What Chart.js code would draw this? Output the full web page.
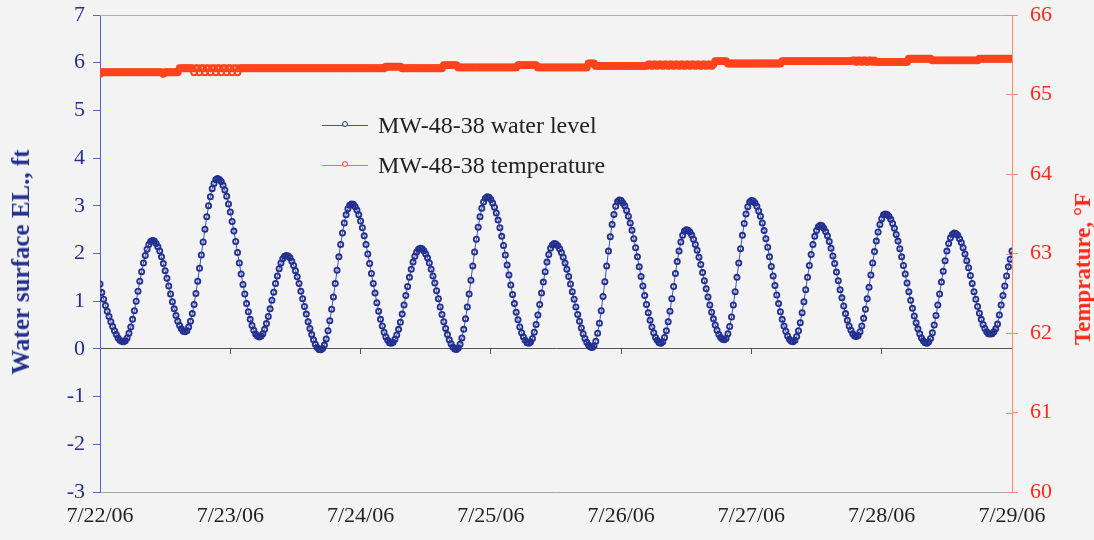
<!DOCTYPE html>
<html>
<head>
<meta charset="utf-8">
<script src="https://cdn.jsdelivr.net/npm/chart.js@4.4.1/dist/chart.umd.min.js"></script>
<style>
  html, body { margin: 0; padding: 0; background: #f3f3f3; }
  #wrap { position: relative; width: 1094px; height: 540px; overflow: hidden; background: #f3f3f3; }
  #c { position: absolute; left: 0; top: 0; }
  #legend { position: absolute; left: 322px; top: 105px; font-family: "Liberation Serif", "Times New Roman", serif; font-size: 24px; color: #222; }
  #legend .item { display: flex; align-items: center; height: 40px; white-space: nowrap; }
  #legend .sample { position: relative; width: 46px; height: 0; border-top: 1px solid; margin-right: 10px; }
  #legend .dot { position: absolute; left: 50%; top: -4.5px; width: 4px; height: 4px; margin-left: -3.5px; border: 1.5px solid; border-radius: 50%; background: #f3f3f3; }
  .axis-title { position: absolute; transform: translate(-50%, -50%) rotate(-90deg); font-family: "Liberation Serif", "Times New Roman", serif; font-weight: bold; white-space: nowrap; }
  #y1title { left: 21px; top: 262px; font-size: 25px; color: #24308f; }
  #y2title { left: 1083px; top: 269px; font-size: 23px; color: #ff2a1a; }
</style>
</head>
<body>
<div id="wrap">
  <canvas id="c" width="1094" height="540"></canvas>
  <div id="legend"></div>
  <div id="y1title" class="axis-title"></div>
  <div id="y2title" class="axis-title"></div>
</div>
<script>
// ---------------- DATA ----------------
const SAMPLE_MINUTES = 20;          // logger interval
const MINUTES_PER_DAY = 1440;

const dateLabels = ['7/22/06', '7/23/06', '7/24/06', '7/25/06', '7/26/06', '7/27/06', '7/28/06', '7/29/06'];
const seriesNames = ['MW-48-38 water level', 'MW-48-38 temperature'];
const leftAxisTitle = 'Water surface EL., ft';
const rightAxisTitle = 'Temprature, \u00B0F';
const waterTicks = [-3, 7];
const tempTicks = [60, 66];

// Water level (ft), 20-minute readings, one array per day
const waterDay0722 = [
  1.36,1.18,1.04,0.91,0.79,0.68,0.57,0.47,0.38,0.30,0.23,0.18,0.16,0.15,
  0.17,0.23,0.33,0.46,0.62,0.80,1.00,1.21,1.42,1.62,1.80,1.96,2.09,2.19,2.25,2.27,
  2.26,2.21,2.14,2.05,1.93,1.79,1.64,1.48,1.32,1.15,0.99,0.84,0.70,0.58,0.49,0.42,0.37,0.36,
  0.38,0.46,0.58,0.74,0.93,1.16,1.42,1.69,1.97,2.24,2.51,2.77,3.00,3.19,3.36,3.47,3.55,3.57,
  3.55,3.51,3.43,3.33,3.20,3.04
];
const waterDay0723 = [
  2.87,2.67,2.47,2.25,2.02,1.80,1.57,1.35,1.15,0.95,0.78,0.62,0.49,0.39,0.31,0.27,0.25,
  0.27,0.32,0.41,0.53,0.68,0.84,1.02,1.19,1.37,1.53,1.68,1.80,1.89,1.94,1.96,
  1.95,1.91,1.84,1.75,1.64,1.51,1.37,1.21,1.05,0.89,0.73,0.57,0.43,0.30,0.19,0.10,0.03,-0.01,-0.02,
  0.01,0.08,0.21,0.38,0.59,0.83,1.09,1.37,1.65,1.93,2.19,2.43,2.64,2.81,2.94,3.01,3.04,
  3.03,2.98,2.91,2.81
];
const waterDay0724 = [
  2.68,2.54,2.37,2.19,1.99,1.79,1.58,1.37,1.17,0.97,0.79,0.62,0.48,0.35,0.25,0.18,0.13,0.12,
  0.14,0.20,0.29,0.41,0.56,0.73,0.92,1.12,1.31,1.50,1.67,1.82,1.94,2.03,2.09,2.11,
  2.10,2.06,1.99,1.91,1.80,1.67,1.53,1.38,1.22,1.05,0.88,0.72,0.57,0.43,0.30,0.19,0.11,0.04,0.00,-0.01,
  0.02,0.10,0.23,0.41,0.63,0.88,1.15,1.44,1.74,2.03,2.30,2.55,2.77,2.95,3.08,3.16,3.19,
  3.18
];
const waterDay0725 = [
  3.13,3.06,2.97,2.85,2.70,2.54,2.36,2.17,1.97,1.76,1.55,1.34,1.14,0.95,0.77,0.61,0.46,0.34,0.25,0.18,0.13,0.12,
  0.15,0.22,0.35,0.51,0.71,0.93,1.17,1.40,1.62,1.82,1.98,2.11,2.18,2.21,
  2.20,2.16,2.10,2.02,1.92,1.80,1.67,1.52,1.36,1.20,1.04,0.88,0.72,0.58,0.44,0.32,0.22,0.14,0.08,0.04,0.03,
  0.06,0.16,0.33,0.54,0.80,1.10,1.41,1.74,2.05,2.35,2.61,2.82,2.99,3.09,3.12
];
const waterDay0726 = [
  3.11,3.06,3.00,2.90,2.78,2.64,2.49,2.31,2.12,1.93,1.72,1.52,1.32,1.12,0.93,0.76,0.60,0.46,0.34,0.24,0.18,0.13,0.12,
  0.15,0.24,0.38,0.57,0.79,1.05,1.31,1.58,1.83,2.05,2.24,2.38,2.47,2.50,
  2.49,2.45,2.39,2.30,2.19,2.07,1.92,1.77,1.60,1.43,1.26,1.09,0.92,0.77,0.63,0.50,0.39,0.30,0.24,0.20,0.19,
  0.22,0.32,0.47,0.67,0.92,1.20,1.50,1.80,2.10,2.38,2.63,2.83,2.98,3.08
];
const waterDay0727 = [
  3.11,
  3.10,3.06,2.99,2.89,2.78,2.64,2.48,2.31,2.13,1.93,1.73,1.53,1.33,1.13,0.95,0.78,0.62,0.48,0.37,0.27,0.20,0.16,0.15,
  0.18,0.26,0.38,0.55,0.76,0.99,1.24,1.50,1.75,1.98,2.19,2.36,2.48,2.56,2.59,
  2.58,2.53,2.46,2.37,2.25,2.11,1.95,1.79,1.61,1.43,1.24,1.07,0.90,0.74,0.60,0.48,0.39,0.32,0.27,0.26,
  0.28,0.36,0.48,0.64,0.83,1.05,1.29,1.55,1.80,2.04,2.26,2.45,2.61
];
const waterDay0728 = [
  2.73,2.81,2.83,
  2.82,2.78,2.72,2.63,2.53,2.40,2.26,2.10,1.93,1.75,1.57,1.38,1.20,1.02,0.85,0.69,0.55,0.42,0.32,0.23,0.17,0.13,0.12,
  0.15,0.22,0.34,0.50,0.70,0.92,1.15,1.40,1.63,1.85,2.05,2.21,2.33,2.40,2.43,
  2.42,2.38,2.31,2.23,2.12,1.99,1.85,1.70,1.54,1.37,1.20,1.04,0.89,0.75,0.62,0.51,0.43,0.36,0.32,0.31,
  0.32,0.36,0.42,0.52,0.71,0.92,1.12,1.32,1.53,1.72,1.88
];
const waterDay0729 = [2.05];

// Temperature (°F), same 20-minute readings, one array per day
const tempDay0722 = [
  65.26,
  65.28,65.28,65.28,65.28,65.28,65.28,65.28,65.28,65.28,65.28,
  65.28,65.28,65.28,65.28,65.28,65.28,65.28,65.28,65.28,65.28,
  65.28,65.28,65.28,65.28,65.28,65.28,65.28,65.28,65.28,65.28,
  65.28,65.28,65.28,65.28,
  65.26,
  65.28,65.28,65.28,65.28,65.28,65.28,65.28,65.28,
  65.33,65.33,65.33,65.33,65.33,65.33,65.33,65.33,
  65.28,65.33,65.33,65.28,65.33,65.33,65.28,65.33,65.33,65.28,
  65.33,65.33,65.28,65.33,65.33,65.28,65.33,65.33,65.28,65.33
];
const tempDay0723 = [
  65.33,65.28,65.33,65.33,65.28,65.33,
  65.33,65.33,65.33,65.33,65.33,65.33,65.33,65.33,65.33,65.33,
  65.33,65.33,65.33,65.33,65.33,65.33,65.33,65.33,65.33,65.33,
  65.33,65.33,65.33,65.33,65.33,65.33,65.33,65.33,65.33,65.33,
  65.33,65.33,65.33,65.33,65.33,65.33,65.33,65.33,65.33,65.33,
  65.33,65.33,65.33,65.33,65.33,65.33,65.33,65.33,65.33,65.33,
  65.33,65.33,65.33,65.33,65.33,65.33,65.33,65.33,65.33,65.33,
  65.33,65.33,65.33,65.33,65.33,65.33
];
const tempDay0724 = [
  65.33,65.33,65.33,65.33,65.33,65.33,65.33,65.33,65.33,65.33,65.33,65.33,65.33,65.33,
  65.35,65.35,65.35,65.35,65.35,65.35,65.35,65.35,65.35,
  65.33,65.33,65.33,65.33,65.33,65.33,65.33,65.33,65.33,65.33,
  65.33,65.33,65.33,65.33,65.33,65.33,65.33,65.33,65.33,65.33,
  65.33,65.33,65.33,
  65.37,65.37,65.37,65.37,65.37,65.37,65.37,65.37,
  65.34,65.34,65.34,65.34,65.34,65.34,65.34,65.34,65.34,
  65.34,65.34,65.34,65.34,65.34,65.34,65.34,65.34,65.34
];
const tempDay0725 = [
  65.34,65.34,65.34,65.34,65.34,65.34,65.34,65.34,65.34,65.34,65.34,65.34,65.34,65.34,65.34,
  65.37,65.37,65.37,65.37,65.37,65.37,65.37,65.37,65.37,65.37,65.37,
  65.34,65.34,65.34,65.34,65.34,65.34,65.34,65.34,65.34,65.34,
  65.34,65.34,65.34,65.34,65.34,65.34,65.34,65.34,65.34,65.34,
  65.34,65.34,65.34,65.34,65.34,65.34,65.34,65.34,
  65.39,65.39,65.39,65.39,
  65.36,65.36,65.36,65.36,65.36,65.36,65.36,65.36,65.36,65.36,65.36,65.36,65.36,65.36
];
const tempDay0726 = [
  65.36,65.36,65.36,65.36,65.36,65.36,65.36,65.36,65.36,65.36,65.36,65.36,65.36,65.36,65.36,
  65.38,65.38,65.36,65.38,65.38,65.36,65.38,65.38,65.36,65.38,65.38,65.36,
  65.38,65.38,65.36,65.38,65.38,65.36,65.38,65.38,65.36,65.38,65.38,65.36,
  65.38,65.38,65.36,65.38,65.38,65.36,65.38,65.38,65.36,65.38,65.38,65.36,
  65.38,
  65.42,65.42,65.42,65.42,65.42,65.42,65.42,
  65.39,65.39,65.39,65.39,65.39,65.39,65.39,65.39,65.39,65.39,65.39,65.39,65.39
];
const tempDay0727 = [
  65.39,65.39,65.39,65.39,65.39,65.39,65.39,65.39,65.39,65.39,65.39,65.39,65.39,65.39,65.39,65.39,65.39,
  65.42,65.42,65.42,65.42,65.42,65.42,65.42,65.42,65.42,65.42,
  65.42,65.42,65.42,65.42,65.42,65.42,65.42,65.42,65.42,65.42,
  65.42,65.42,65.42,65.42,65.42,65.42,65.42,65.42,65.42,65.42,
  65.42,65.42,65.42,65.42,65.42,65.42,65.42,65.42,65.42,
  65.43,65.43,65.41,65.43,65.43,65.41,65.43,65.43,65.41,65.43,65.43,65.41,65.43,
  65.41,65.41,65.41
];
const tempDay0728 = [
  65.41,65.41,65.41,65.41,65.41,65.41,65.41,65.41,65.41,65.41,65.41,65.41,65.41,65.41,65.41,
  65.45,65.45,65.45,65.45,65.45,65.45,65.45,65.45,65.45,65.45,65.45,65.45,65.45,
  65.43,65.43,65.43,65.43,65.43,65.43,65.43,65.43,65.43,65.43,65.43,65.43,65.43,
  65.43,65.43,65.43,65.43,65.43,65.43,65.43,65.43,65.43,65.43,65.43,65.43,65.43,
  65.45,65.45,65.45,65.45,65.45,65.45,65.45,65.45,65.45,
  65.45,65.45,65.45,65.45,65.45,65.45,65.45,65.45,65.45
];
const tempDay0729 = [65.45];

// ---------------- BUILD ----------------
const waterLevel = [].concat(waterDay0722, waterDay0723, waterDay0724, waterDay0725, waterDay0726, waterDay0727, waterDay0728, waterDay0729);
const temperature = [].concat(tempDay0722, tempDay0723, tempDay0724, tempDay0725, tempDay0726, tempDay0727, tempDay0728, tempDay0729);
const dayOf = i => i * SAMPLE_MINUTES / MINUTES_PER_DAY;
const waterPts = waterLevel.map((v, i) => ({ x: dayOf(i), y: v }));
const tempPts = temperature.map((v, i) => ({ x: dayOf(i), y: v }));

const SERIF = '"Liberation Serif", "Times New Roman", serif';
const NAVY = '#24308f';
const RED = '#ff2a1a';

const framePlugin = {
  id: 'frame',
  beforeDatasetsDraw(chart) {
    const { ctx, chartArea: a } = chart;
    ctx.save();
    ctx.lineWidth = 1;
    ctx.strokeStyle = '#b0b0b0';
    ctx.beginPath();
    ctx.moveTo(a.left, Math.round(a.top) + 0.5);
    ctx.lineTo(a.right, Math.round(a.top) + 0.5);
    ctx.stroke();
    const s = chart.scales.y2;
    ctx.strokeStyle = '#ff8a6e';
    s.ticks.forEach(t => {
      const y = Math.round(s.getPixelForValue(t.value)) + 0.5;
      ctx.beginPath();
      ctx.moveTo(a.right - 6, y);
      ctx.lineTo(a.right, y);
      ctx.stroke();
    });
    ctx.restore();
  }
};

const htmlLegendPlugin = {
  id: 'htmlLegend',
  afterUpdate(chart) {
    const box = document.getElementById('legend');
    box.innerHTML = '';
    chart.data.datasets.forEach(ds => {
      const item = document.createElement('div');
      item.className = 'item';
      const sample = document.createElement('span');
      sample.className = 'sample';
      sample.style.borderTopColor = ds.borderColor;
      const dot = document.createElement('span');
      dot.className = 'dot';
      dot.style.borderColor = ds.pointBorderColor;
      sample.appendChild(dot);
      const label = document.createElement('span');
      label.textContent = ds.label;
      item.appendChild(sample);
      item.appendChild(label);
      box.appendChild(item);
    });
    document.getElementById('y1title').textContent = leftAxisTitle;
    document.getElementById('y2title').textContent = rightAxisTitle;
  }
};

const noOverflowPadding = s => { s.paddingTop = 0; s.paddingBottom = 0; };

new Chart(document.getElementById('c'), {
  type: 'line',
  data: {
    datasets: [
      {
        label: seriesNames[0],
        data: waterPts,
        yAxisID: 'y',
        borderColor: '#4252b8',
        borderWidth: 1,
        pointRadius: 2.6,
        pointBorderWidth: 1.8,
        pointBorderColor: '#22308f',
        pointBackgroundColor: 'rgba(0,0,0,0)',
        tension: 0
      },
      {
        label: seriesNames[1],
        data: tempPts,
        yAxisID: 'y2',
        borderColor: '#ff7040',
        borderWidth: 1,
        pointRadius: 2.9,
        pointBorderWidth: 2,
        pointBorderColor: '#ff431c',
        pointBackgroundColor: 'rgba(0,0,0,0)',
        tension: 0
      }
    ]
  },
  options: {
    responsive: false,
    animation: false,
    devicePixelRatio: 1,
    layout: { padding: { top: 15, left: 0, right: 0, bottom: 0 } },
    plugins: { legend: { display: false }, tooltip: { enabled: false } },
    scales: {
      x: {
        type: 'linear',
        position: 'bottom',
        min: 0,
        max: dateLabels.length - 1,
        ticks: {
          stepSize: 1,
          autoSkip: false,
          maxRotation: 0,
          padding: 11,
          color: '#222',
          font: { family: SERIF, size: 22 },
          callback: v => dateLabels[v]
        },
        grid: { display: false, drawTicks: false },
        border: { color: '#a8a8a8', width: 1 },
        afterFit: s => { s.height = 48; }
      },
      xZero: {
        type: 'linear',
        axis: 'x',
        position: { y: 0 },
        min: 0,
        max: dateLabels.length - 1,
        ticks: { display: false, stepSize: 1 },
        grid: { drawOnChartArea: false, tickLength: 5, color: '#555' },
        border: { color: '#555', width: 1 }
      },
      y: {
        position: 'left',
        min: waterTicks[0],
        max: waterTicks[1],
        ticks: { stepSize: 1, padding: 8, color: NAVY, font: { family: SERIF, size: 22 } },
        grid: { drawOnChartArea: false, tickLength: 7, color: '#5563c8' },
        border: { color: '#5563c8', width: 1 },
        afterFit: s => { s.width = 100; noOverflowPadding(s); }
      },
      y2: {
        position: 'right',
        min: tempTicks[0],
        max: tempTicks[1],
        ticks: { stepSize: 1, padding: 12, color: RED, font: { family: SERIF, size: 22 } },
        grid: { drawOnChartArea: false, tickLength: 6, color: '#ff8a6e' },
        border: { color: '#ff8a6e', width: 1 },
        afterFit: s => { s.width = 82; noOverflowPadding(s); }
      }
    }
  },
  plugins: [framePlugin, htmlLegendPlugin]
});
</script>
</body>
</html>
